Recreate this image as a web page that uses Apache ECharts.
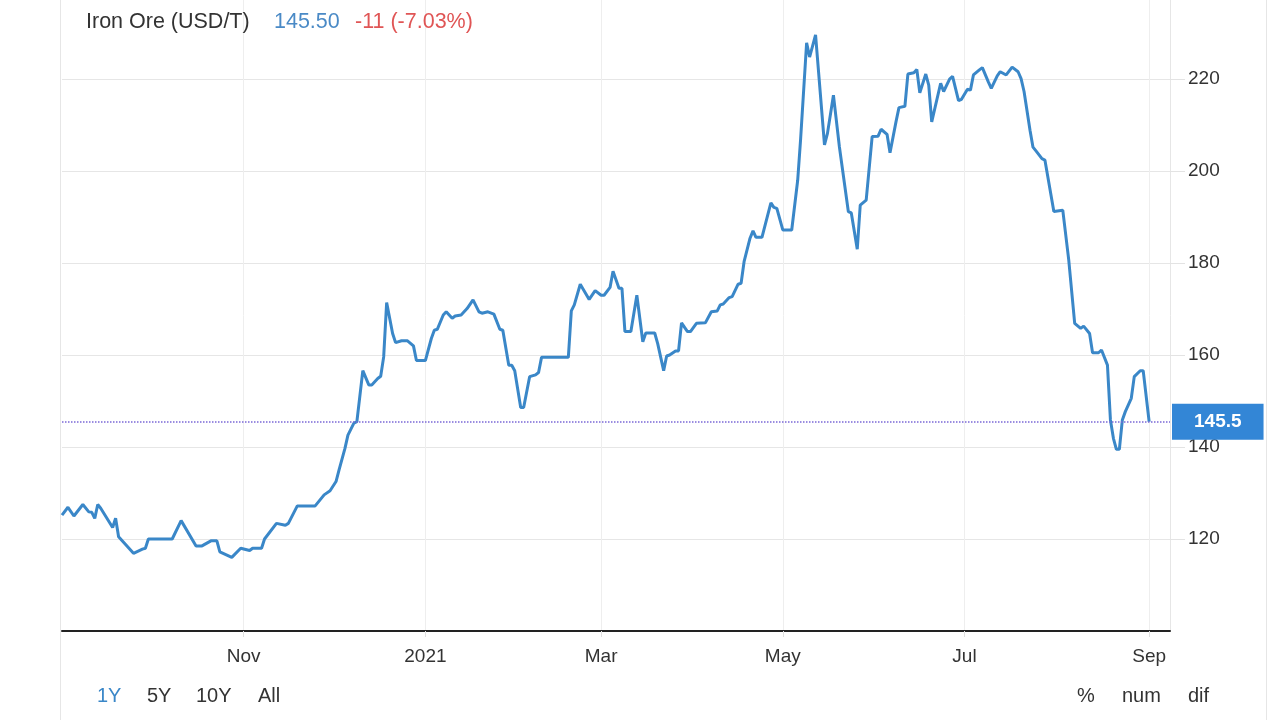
<!DOCTYPE html>
<html><head><meta charset="utf-8">
<script src="https://cdn.jsdelivr.net/npm/echarts@6/dist/echarts.min.js"></script>
<style>html,body{margin:0;padding:0;background:#fff}#c{width:1280px;height:720px}</style>
</head><body><div id="c"></div>
<script>
const dates = [
'2020-09-01','2020-09-03','2020-09-05','2020-09-08','2020-09-10','2020-09-11','2020-09-12','2020-09-13','2020-09-14','2020-09-18',
'2020-09-19','2020-09-20','2020-09-25','2020-09-28','2020-09-29','2020-09-30','2020-10-08','2020-10-11','2020-10-16','2020-10-18',
'2020-10-21','2020-10-23','2020-10-24','2020-10-28','2020-10-31','2020-11-03','2020-11-04','2020-11-07','2020-11-08','2020-11-12',
'2020-11-15','2020-11-16','2020-11-19','2020-11-25','2020-11-28','2020-11-30','2020-12-02','2020-12-03','2020-12-05','2020-12-06',
'2020-12-08','2020-12-09','2020-12-11','2020-12-13','2020-12-14','2020-12-16','2020-12-17','2020-12-18','2020-12-19','2020-12-21',
'2020-12-22','2020-12-24','2020-12-26','2020-12-28','2020-12-29','2021-01-01','2021-01-03','2021-01-04','2021-01-05','2021-01-07',
'2021-01-08','2021-01-10','2021-01-11','2021-01-13','2021-01-15','2021-01-17','2021-01-19','2021-01-20','2021-01-22','2021-01-24',
'2021-01-26','2021-01-27','2021-01-29','2021-01-30','2021-01-31','2021-02-02','2021-02-03','2021-02-05','2021-02-07','2021-02-08',
'2021-02-09','2021-02-18','2021-02-19','2021-02-20','2021-02-22','2021-02-25','2021-02-27','2021-03-01','2021-03-02','2021-03-04',
'2021-03-05','2021-03-07','2021-03-08','2021-03-09','2021-03-11','2021-03-13','2021-03-15','2021-03-16','2021-03-19','2021-03-20',
'2021-03-22','2021-03-23','2021-03-24','2021-03-26','2021-03-27','2021-03-28','2021-03-30','2021-03-31','2021-04-02','2021-04-05',
'2021-04-07','2021-04-09','2021-04-10','2021-04-11','2021-04-13','2021-04-14','2021-04-16','2021-04-17','2021-04-18','2021-04-20',
'2021-04-21','2021-04-22','2021-04-24','2021-04-27','2021-04-28','2021-04-29','2021-05-01','2021-05-04','2021-05-06','2021-05-07',
'2021-05-09','2021-05-10','2021-05-12','2021-05-15','2021-05-16','2021-05-18','2021-05-20','2021-05-23','2021-05-24','2021-05-26',
'2021-05-27','2021-05-29','2021-05-31','2021-06-02','2021-06-03','2021-06-05','2021-06-06','2021-06-08','2021-06-09','2021-06-11',
'2021-06-12','2021-06-14','2021-06-15','2021-06-16','2021-06-18','2021-06-19','2021-06-20','2021-06-23','2021-06-24','2021-06-26',
'2021-06-27','2021-06-29','2021-06-30','2021-07-02','2021-07-03','2021-07-04','2021-07-06','2021-07-07','2021-07-09','2021-07-10',
'2021-07-12','2021-07-13','2021-07-15','2021-07-17','2021-07-19','2021-07-20','2021-07-21','2021-07-23','2021-07-24','2021-07-25',
'2021-07-27','2021-07-28','2021-07-31','2021-08-03','2021-08-05','2021-08-07','2021-08-09','2021-08-10','2021-08-12','2021-08-13',
'2021-08-15','2021-08-16','2021-08-18','2021-08-19','2021-08-20','2021-08-21','2021-08-22','2021-08-23','2021-08-24','2021-08-26',
'2021-08-27','2021-08-29','2021-08-30','2021-09-01'
];
const prices = [
125.2,126.9,125.0,127.5,125.9,125.8,124.5,127.5,126.7,122.5,
124.5,120.5,116.9,117.8,118.0,120.0,120.0,124.0,118.5,118.5,
119.6,119.6,117.2,116.0,118.0,117.5,118.0,118.0,120.0,123.4,
123.0,123.4,127.2,127.2,129.6,130.5,132.5,135.0,139.7,142.6,
145.2,145.5,156.6,153.5,153.5,154.9,155.4,159.6,171.4,164.7,
162.7,163.1,163.1,162.0,158.8,158.8,163.6,165.4,165.6,168.7,
169.4,168.0,168.5,168.7,170.1,172.0,169.4,169.1,169.4,168.9,
165.6,165.4,157.8,157.8,156.6,148.6,148.6,155.3,155.7,156.2,
159.5,159.5,169.6,170.9,175.4,172.1,174.0,173.0,173.0,174.7,
178.2,174.5,174.5,165.1,165.1,173.0,162.9,164.8,164.8,162.5,
156.6,159.8,160.0,160.9,160.9,167.0,165.1,165.1,166.9,167.0,
169.4,169.6,170.9,171.1,172.5,172.7,175.4,175.6,180.3,185.4,
187.0,185.6,185.6,193.1,192.1,191.9,187.2,187.2,198.0,207.1,
227.9,224.8,229.6,205.7,208.2,216.5,205.3,191.2,190.9,183.0,
192.6,193.7,207.5,207.6,209.1,208.0,204.0,210.7,213.8,214.1,
221.1,221.4,222.1,217.0,221.1,218.7,210.7,219.1,217.3,220.0,
220.6,215.3,215.6,217.8,217.6,220.9,222.0,222.5,219.4,218.0,
220.7,221.6,220.9,222.6,221.6,220.1,217.3,208.9,205.2,204.4,
202.7,202.4,191.2,191.5,180.7,166.9,165.8,166.3,164.7,160.5,
160.5,161.1,157.8,145.9,141.9,139.5,139.5,145.9,147.7,150.6,
155.3,156.6,156.6,145.5
];
const tickDates = ['2020-11-01','2021-01-01','2021-03-01','2021-05-01','2021-07-01','2021-09-01'];
const tickLabels = ['Nov','2021','Mar','May','Jul','Sep'];
const axisStart = '2020-09-01';
const axisEnd = '2021-09-08';
const yMin = 100, yMax = 237.2, yStep = 20;
const lastPrice = 145.5;
const titleName = 'Iron Ore (USD/T)';
const titlePrice = '145.50';
const titleChange = '-11 (-7.03%)';
const rangeButtons = ['1Y','5Y','10Y','All'];
const modeButtons = ['%','num','dif'];

function ts(s){const p=s.split('-').map(Number);return Date.UTC(p[0],p[1]-1,p[2]);}
const tickTs = tickDates.map(ts);
const FONT = '"Liberation Sans", Arial, sans-serif';

const chart = echarts.init(document.getElementById('c'));
const rangeX = [97,147,196,258];
const modeX = [1077,1122,1188];
chart.setOption({
  animation:false,
  backgroundColor:'#fff',
  textStyle:{fontFamily:FONT},
  title:[
    {text:titleName,left:86,top:11,padding:0,textStyle:{color:'#333',fontSize:21.5,fontWeight:'normal',fontFamily:FONT}},
    {text:titlePrice,left:274,top:11,padding:0,textStyle:{color:'#4a8ac6',fontSize:21.5,fontWeight:'normal',fontFamily:FONT}},
    {text:titleChange,left:355,top:11,padding:0,textStyle:{color:'#e05555',fontSize:21.5,fontWeight:'normal',fontFamily:FONT}}
  ],
  grid:{left:62,right:110,top:0,bottom:89,containLabel:false},
  xAxis:{
    type:'value',min:ts(axisStart),max:ts(axisEnd),
    axisLine:{show:true,lineStyle:{color:'#222',width:2}},
    axisTick:{show:true,customValues:tickTs,length:6,lineStyle:{color:'#e0e0e0'}},
    axisLabel:{customValues:tickTs,color:'#333',fontSize:19,margin:16,fontFamily:FONT,
      formatter:function(v){const i=tickTs.indexOf(v);return i>=0?tickLabels[i]:'';}},
    splitLine:{show:true,lineStyle:{color:'#eeeeee',width:1}}
  },
  yAxis:{
    type:'value',position:'right',min:yMin,max:yMax,interval:yStep,
    axisLine:{show:true,lineStyle:{color:'#e6e6e6',width:1}},
    axisTick:{show:true,length:15,lineStyle:{color:'#e3e3e3'}},
    axisLabel:{color:'#333',fontSize:19,margin:18,padding:[5,0,0,0],showMinLabel:false,showMaxLabel:false,fontFamily:FONT},
    splitLine:{show:true,showMaxLine:false,lineStyle:{color:'#e6e6e6',width:1}}
  },
  series:[{
    type:'line',showSymbol:false,
    data:dates.map((d,i)=>[ts(d),prices[i]]),
    lineStyle:{color:'#3a87c8',width:3},
    itemStyle:{color:'#3a87c8'},
    markLine:{
      silent:true,symbol:'none',
      lineStyle:{type:'dotted',color:'#7b68d6',width:1.5},
      label:{show:true,position:'end',distance:2,formatter:String(lastPrice),
        color:'#fff',fontSize:19,fontWeight:'bold',backgroundColor:'#3386d6',padding:[9,22,8,22],fontFamily:FONT},
      data:[{yAxis:lastPrice}]
    }
  }],
  graphic:[
    {type:'line',shape:{x1:60.5,y1:0,x2:60.5,y2:720},style:{stroke:'#e6e6e6',lineWidth:1},silent:true},
    {type:'line',shape:{x1:1266.5,y1:0,x2:1266.5,y2:720},style:{stroke:'#e6e6e6',lineWidth:1},silent:true},
    ...rangeButtons.map((t,i)=>({type:'text',left:rangeX[i],top:686,style:{text:t,fill:i===0?'#3a87c8':'#333',font:'20px '+FONT}})),
    ...modeButtons.map((t,i)=>({type:'text',left:modeX[i],top:686,style:{text:t,fill:'#333',font:'20px '+FONT}}))
  ]
});
</script></body></html>
